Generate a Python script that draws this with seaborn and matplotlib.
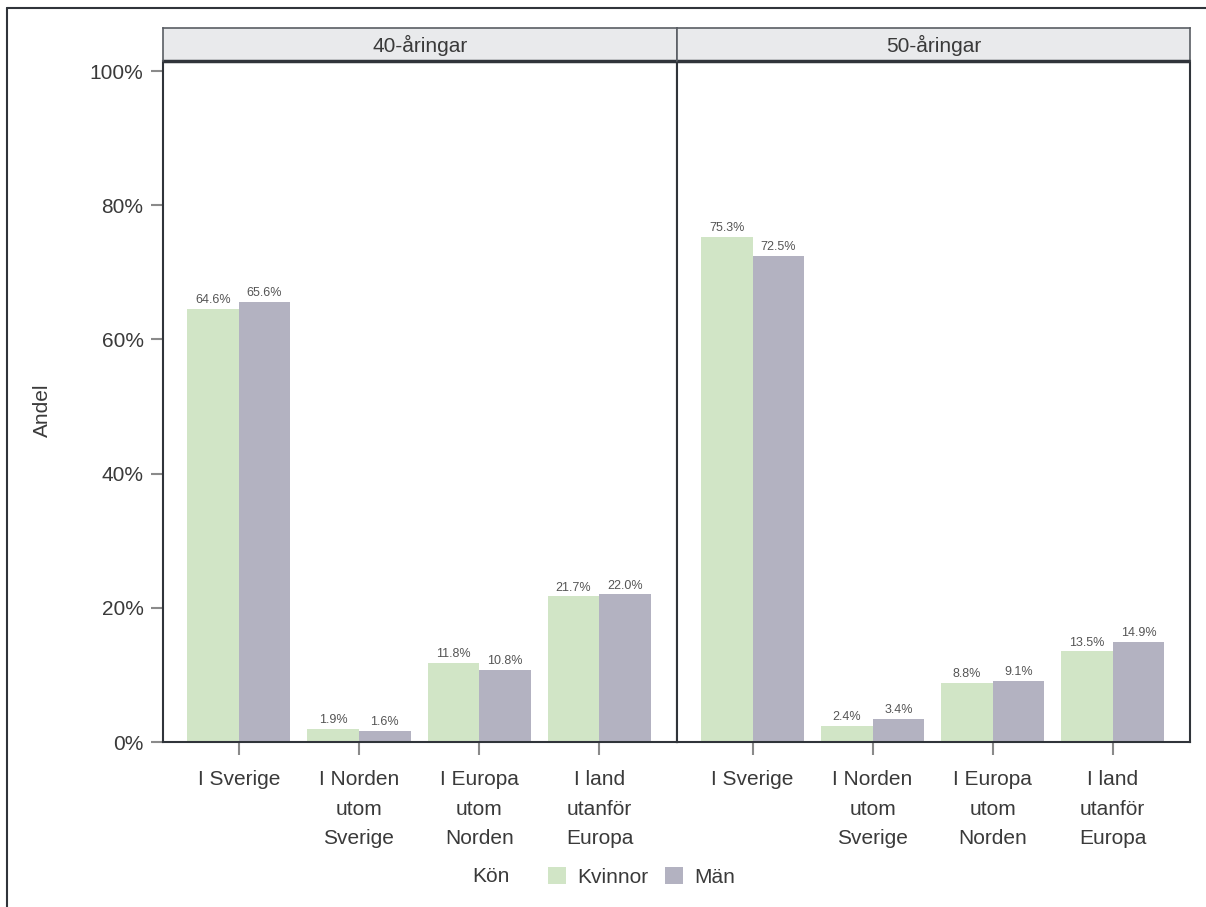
import numpy as np
import matplotlib
matplotlib.use("Agg")
import matplotlib.pyplot as plt
import pandas as pd
import seaborn as sns
from matplotlib.patches import Patch
from matplotlib.lines import Line2D

# data
kategorier = ["I Sverige", "I Norden\nutom\nSverige", "I Europa\nutom\nNorden", "I land\nutanför\nEuropa"]
aldersgrupper = ["40-åringar", "50-åringar"]
kon = ["Kvinnor", "Män"]
kvinnor_40 = [64.6, 1.9, 11.8, 21.7]
man_40 = [65.6, 1.6, 10.8, 22.0]
kvinnor_50 = [75.3, 2.4, 8.8, 13.5]
man_50 = [72.5, 3.4, 9.1, 14.9]
yticks = [0, 20, 40, 60, 80, 100]

rows = []
for grupp, kv, ma in [(aldersgrupper[0], kvinnor_40, man_40), (aldersgrupper[1], kvinnor_50, man_50)]:
	for i, k in enumerate(kategorier):
		rows.append({"grupp": grupp, "kategori": k, "kon": kon[0], "andel": kv[i]})
		rows.append({"grupp": grupp, "kategori": k, "kon": kon[1], "andel": ma[i]})
df = pd.DataFrame(rows)

sns.set_style("white")
plt.rcParams['font.family'] = ['Liberation Sans', 'DejaVu Sans']

green = "#d1e5c6"
grey = "#b3b2c1"
frame = "#30343a"
textc = "#3a3a3a"
palette = {kon[0]: green, kon[1]: grey}

W, H = 1206, 907
fig = plt.figure(figsize=(W / 100, H / 100), dpi=100)

panel_x = [(163, 677), (677, 1190)]
y_top, y_bot = 61, 742
strip_top = 28

for p, grupp in enumerate(aldersgrupper):
	x0, x1 = panel_x[p]
	ax = fig.add_axes([x0 / W, 1 - y_bot / H, (x1 - x0) / W, (y_bot - y_top) / H])
	sub = df[df["grupp"] == grupp]
	sns.barplot(data=sub, x="kategori", y="andel", hue="kon", hue_order=kon, order=kategorier,
				palette=palette, width=0.86, linewidth=0, saturation=1, ax=ax, legend=False,
				errorbar=None)
	for cont in ax.containers:
		ax.bar_label(cont, fmt="%.1f%%", fontsize=9, color="#555555", padding=2)
	ax.set_xlim(-0.63, 3.645)
	ax.set_ylim(0, 101.5)
	ax.set_xlabel("")
	ax.set_ylabel("")
	ax.set_yticks(yticks)
	if p == 0:
		ax.set_yticklabels([f"{t}%" for t in yticks])
		ax.tick_params(axis="y", length=9, width=1.5, color="#8a8a8a", pad=5, labelsize=15, labelcolor=textc, left=True)
	else:
		ax.tick_params(axis="y", left=False, labelleft=False)
	ax.tick_params(axis="x", length=9, width=1.5, color="#8a8a8a", pad=11, labelsize=15, labelcolor=textc, bottom=True)
	for lab in ax.get_xticklabels():
		lab.set_linespacing(1.72)
	for s in ax.spines.values():
		s.set_color(frame)
		s.set_linewidth(1.5)
	ax.spines["top"].set_visible(False)

	# strip
	sax = fig.add_axes([x0 / W, 1 - y_top / H, (x1 - x0) / W, (y_top - strip_top) / H])
	sax.set_xticks([])
	sax.set_yticks([])
	sax.set_facecolor("#e9eaec")
	for s in sax.spines.values():
		s.set_color("#5a5e64")
		s.set_linewidth(1.2)
	sax.spines["bottom"].set_color(frame)
	sax.spines["bottom"].set_linewidth(2.5)
	sax.spines["bottom"].set_capstyle("butt")
	sax.text(0.5, 0.47, grupp, ha="center", va="center", fontsize=15, color=textc, transform=sax.transAxes)

fig.text(42 / W, 1 - 410 / H, "Andel", rotation=90, ha="center", va="center", fontsize=15, color=textc)

# legend
fig.text(472 / W, 1 - 876 / H, "Kön", ha="left", va="center", fontsize=15, color=textc)
handles = [Patch(facecolor=green, edgecolor="none"), Patch(facecolor=grey, edgecolor="none")]
fig.legend(handles, kon, loc="center left", bbox_to_anchor=(548 / W, 1 - 877 / H), ncol=2,
		   frameon=False, fontsize=15, handlelength=0.85, handleheight=0.85, handletextpad=0.55,
		   columnspacing=0.8, borderpad=0, borderaxespad=0, labelcolor=textc)

# outer frame lines (top and left)
fig.add_artist(Line2D([7 / W, 1], [1 - 8 / H, 1 - 8 / H], transform=fig.transFigure, color=frame, linewidth=1.5))
fig.add_artist(Line2D([7 / W, 7 / W], [0, 1 - 8 / H], transform=fig.transFigure, color=frame, linewidth=1.5))

fig.savefig("out.png", dpi=100)
